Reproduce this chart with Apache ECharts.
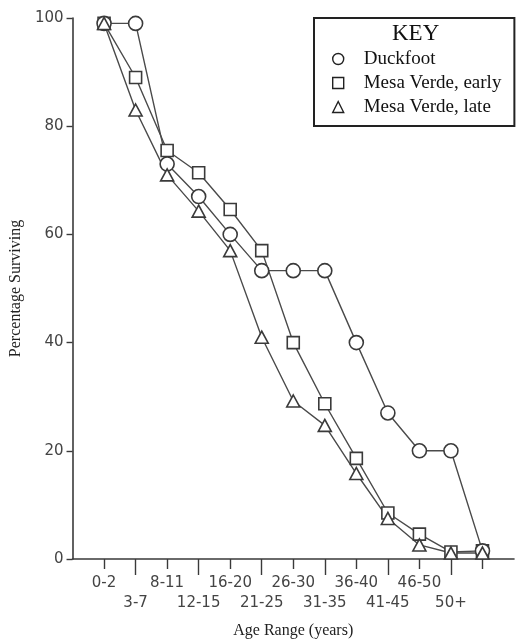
<!DOCTYPE html>
<html>
<head>
<meta charset="utf-8">
<script src="https://cdn.jsdelivr.net/npm/echarts@6/dist/echarts.min.js"></script>
<style>
  html, body { margin: 0; padding: 0; background: #fff; }
  #chart { width: 517px; height: 644px; }
</style>
</head>
<body>
<div id="chart"></div>
<script>
// Age classes; the 13th position carries the final (unlabelled) survivors
const ageRanges = ['0-2', '3-7', '8-11', '12-15', '16-20', '21-25', '26-30', '31-35', '36-40', '41-45', '46-50', '50+', ''];

// Percentage surviving per age class
const duckfoot       = [99, 99, 73, 67, 60, 53.3, 53.3, 53.3, 40, 27, 20, 20, 1.5];
const mesaVerdeEarly = [99, 89, 75.5, 71.4, 64.6, 57, 40, 28.7, 18.6, 8.5, 4.6, 1.3, 1.5];
const mesaVerdeLate  = [99, 83, 71, 64.3, 57, 41, 29.2, 24.7, 15.8, 7.5, 2.6, 1.1, 1.1];

const yMin = 0, yMax = 100, yStep = 20;

// One empty slot on each side so the age classes sit inside the axis span
const axisCategories = [''].concat(ageRanges, ['']);
const pad = arr => [null].concat(arr, [null]);
const isAge = i => i >= 1 && i <= ageRanges.length;

const ink = '#3a3a3a';
const sansFont = 'DejaVu Sans';
const serifFont = 'Liberation Serif';

const markerStyle = { color: '#fff', borderColor: ink, borderWidth: 1.6 };

function makeSeries(name, data, symbol, size) {
  return {
    name: name,
    type: 'line',
    data: pad(data),
    symbol: symbol,
    symbolSize: size,
    showAllSymbol: true,
    lineStyle: { color: '#4a4a4a', width: 1.4 },
    itemStyle: markerStyle,
    emphasis: { disabled: true }
  };
}

const chart = echarts.init(document.getElementById('chart'), null, { renderer: 'canvas' });

chart.setOption({
  animation: false,
  backgroundColor: '#fff',
  title: {
    text: 'KEY',
    left: 392,
    top: 22,
    padding: 0,
    textStyle: { fontFamily: serifFont, fontSize: 23, fontWeight: 'normal', color: '#111' }
  },
  legend: {
    orient: 'vertical',
    left: 314,
    top: 18,
    padding: [31, 13, 9, 18],
    borderColor: '#222',
    borderWidth: 2,
    itemWidth: 11,
    itemHeight: 11,
    itemGap: 4,
    itemStyle: { color: '#fff', borderColor: '#222', borderWidth: 1.4 },
    lineStyle: { width: 0, opacity: 0 },
    textStyle: {
      fontFamily: serifFont, fontSize: 19, lineHeight: 20, color: '#111',
      padding: [0, 0, 0, 15]
    },
    data: [
      { name: 'Duckfoot', icon: 'circle' },
      { name: 'Mesa Verde, early', icon: 'rect' },
      { name: 'Mesa Verde, late', icon: 'triangle' }
    ],
    selectedMode: false
  },
  grid: { left: 72, top: 18, width: 447, height: 543, containLabel: false },
  xAxis: [
    {
      type: 'category',
      data: axisCategories,
      boundaryGap: false,
      position: 'bottom',
      offset: 0,
      name: 'Age Range (years)',
      nameLocation: 'middle',
      nameGap: 64,
      nameTextStyle: { fontFamily: serifFont, fontSize: 16, color: '#222' },
      axisLine: { lineStyle: { color: ink, width: 1.6 } },
      axisTick: {
        show: true,
        length: 10,
        lineStyle: { color: ink, width: 1.4 },
        interval: (i) => isAge(i) && (i - 1) % 2 === 0
      },
      axisLabel: {
        interval: 0,
        margin: 14,
        fontFamily: sansFont,
        fontSize: 15,
        lineHeight: 20,
        color: '#444',
        formatter: (value, i) => (isAge(i) && (i - 1) % 2 === 1) ? '\n' + value : value
      },
      splitLine: { show: false }
    },
    {
      type: 'category',
      data: axisCategories,
      boundaryGap: false,
      position: 'bottom',
      offset: 0,
      axisLine: { show: false },
      axisTick: {
        show: true,
        length: 16,
        lineStyle: { color: ink, width: 1.4 },
        interval: (i) => isAge(i) && (i - 1) % 2 === 1
      },
      axisLabel: { show: false },
      splitLine: { show: false }
    }
  ],
  yAxis: {
    type: 'value',
    min: yMin,
    max: yMax,
    interval: yStep,
    name: 'Percentage Surviving',
    nameLocation: 'middle',
    nameGap: 43,
    nameTextStyle: { fontFamily: serifFont, fontSize: 16, color: '#222' },
    axisLine: { show: true, lineStyle: { color: ink, width: 1.6 } },
    axisTick: { show: true, length: 6, lineStyle: { color: ink, width: 1.4 } },
    axisLabel: { margin: 9, fontFamily: sansFont, fontSize: 15, color: '#444' },
    splitLine: { show: false }
  },
  series: [
    makeSeries('Mesa Verde, early', mesaVerdeEarly, 'rect', 12),
    makeSeries('Duckfoot', duckfoot, 'circle', 14),
    makeSeries('Mesa Verde, late', mesaVerdeLate, 'triangle', [13, 12])
  ]
});
</script>
</body>
</html>
